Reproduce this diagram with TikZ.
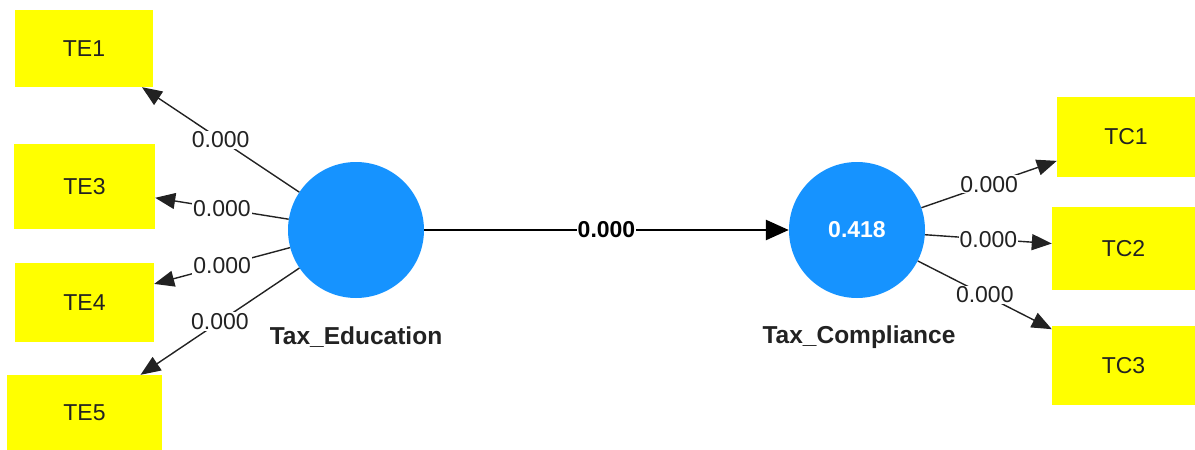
\documentclass[tikz,border=0pt]{standalone}
\usepackage{fontspec}
\setmainfont{Liberation Sans}
\usepackage{tikz}
\usetikzlibrary{arrows.meta,positioning}
\definecolor{PlsBlue}{HTML}{1693FF}
\definecolor{PlsYellow}{HTML}{FFFF00}
\definecolor{PlsText}{HTML}{222222}

\begin{document}
\begin{tikzpicture}[x=1pt, y=-1pt,
  font=\fontsize{23}{27}\selectfont,
  indicator/.style={fill=PlsYellow, text=PlsText, minimum width=139pt, minimum height=79pt, align=center, inner sep=0pt},
  construct/.style={circle, fill=PlsBlue, minimum size=136pt, inner sep=0pt, text=white, font=\fontsize{23}{27}\selectfont\bfseries},
  cname/.style={text=PlsText, font=\fontsize{24.5}{28}\selectfont\bfseries},
  weight/.style={fill=white, text=PlsText, inner sep=1pt},
  loading/.style={-{Triangle[length=20pt,width=16pt]}, line width=1.4pt, PlsText},
  path/.style={-{Triangle[length=23pt,width=20pt]}, line width=2.6pt, black}]
\useasboundingbox (0,0) rectangle (1195,450);

% constructs
\node[construct] (educ) at (356,230) {};
\node[construct] (comp) at (857,230) {0.418};
\node[cname] (educ-name) at (356,337) {Tax\_Education};
\node[cname] (comp-name) at (859,337) {Tax\_Compliance};

% indicators
\node[indicator, minimum width=138pt, minimum height=77pt] (te1) at (84,48.5) {TE1};
\node[indicator, minimum width=141pt, minimum height=85pt] (te3) at (84.5,186.5) {TE3};
\node[indicator] (te4) at (84.5,302.5) {TE4};
\node[indicator, minimum width=155pt, minimum height=75pt] (te5) at (84.5,412.5) {TE5};
\node[indicator, minimum width=138pt, minimum height=80pt] (tc1) at (1126,137) {TC1};
\node[indicator, minimum width=143pt, minimum height=83pt] (tc2) at (1123.5,248.5) {TC2};
\node[indicator, minimum width=143pt] (tc3) at (1123.5,365.5) {TC3};

% outer loadings
\draw[loading] (educ) -- node[weight] {0.000} (te1);
\draw[loading] (educ) -- node[weight] {0.000} (te3);
\draw[loading] (educ) -- node[weight] {0.000} (te4);
\draw[loading] (educ) -- node[weight] {0.000} (te5);
\draw[loading] (comp) -- node[weight] {0.000} (tc1);
\draw[loading] (comp) -- node[weight] {0.000} (tc2);
\draw[loading] (comp) -- node[weight] {0.000} (tc3);

% path coefficient
\draw[path] (educ) -- node[weight, font=\fontsize{23}{27}\selectfont\bfseries, text=black] {0.000} (comp);
\end{tikzpicture}
\end{document}
